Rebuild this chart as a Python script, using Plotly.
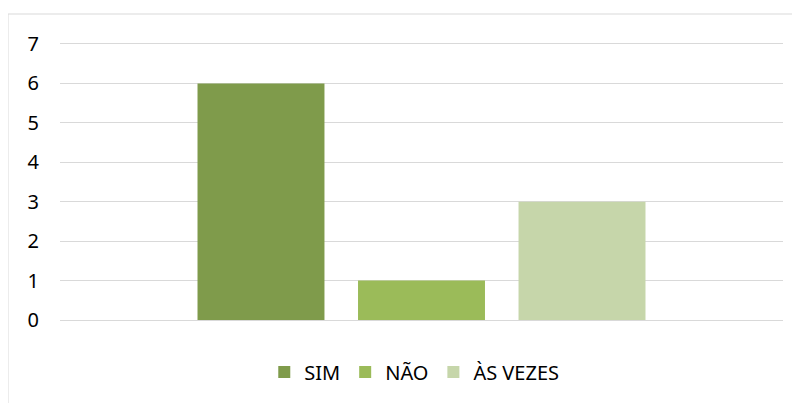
import plotly.graph_objects as go

categories = [""]
series_names = ["SIM", "NÃO", "ÀS VEZES"]
series_values = [[6], [1], [3]]
series_colors = ["#7F9B4B", "#9BBB59", "#C6D6AA"]
y_ticks = [0, 1, 2, 3, 4, 5, 6, 7]

fig = go.Figure()
for name, vals, col in zip(series_names, series_values, series_colors):
    fig.add_trace(go.Bar(x=categories, y=vals, name=name, marker=dict(color=col, line=dict(width=0))))

# page has an 8px body offset; target screen pixels minus 8
OFF = 8
W, H = 800, 403
YMAX = 7.1
top_px = 320 - (320 - 44) * YMAX / 7
L = 60 - OFF
R = W - (783 - OFF)
T = round(top_px) - OFF
B = H - (320 - OFF)
pw, ph = W - L - R, H - T - B

def px_x(p):
    return (p - OFF - L) / pw

def px_y(p):
    return (H - B - (p - OFF)) / ph

fig.update_layout(
    width=W, height=H,
    margin=dict(l=L, r=R, t=T, b=B),
    paper_bgcolor="white", plot_bgcolor="white",
    barmode="group", bargap=0.334, bargroupgap=0.209,
    font=dict(family="Noto Sans", size=20, color="#000000"),
    showlegend=True,
    legend=dict(orientation="h", x=0.49, xanchor="center", y=px_y(372), yanchor="middle",
                font=dict(size=20), itemclick=False, traceorder="normal"),
    xaxis=dict(showticklabels=False, showgrid=False, zeroline=False, showline=False, fixedrange=True),
    yaxis=dict(range=[0, YMAX], tickvals=y_ticks, showgrid=True, gridcolor="#D9D9D9", gridwidth=1,
               zeroline=True, zerolinecolor="#D9D9D9", zerolinewidth=1, showline=False,
               ticklabelstandoff=20, tickfont=dict(size=20)),
    shapes=[dict(type="rect", xref="paper", yref="paper",
                 x0=px_x(8), x1=px_x(830), y0=px_y(14), y1=px_y(430),
                 line=dict(color="#D9D9D9", width=1), fillcolor="rgba(0,0,0,0)", layer="below")],
)

fig.write_html("out.html")
